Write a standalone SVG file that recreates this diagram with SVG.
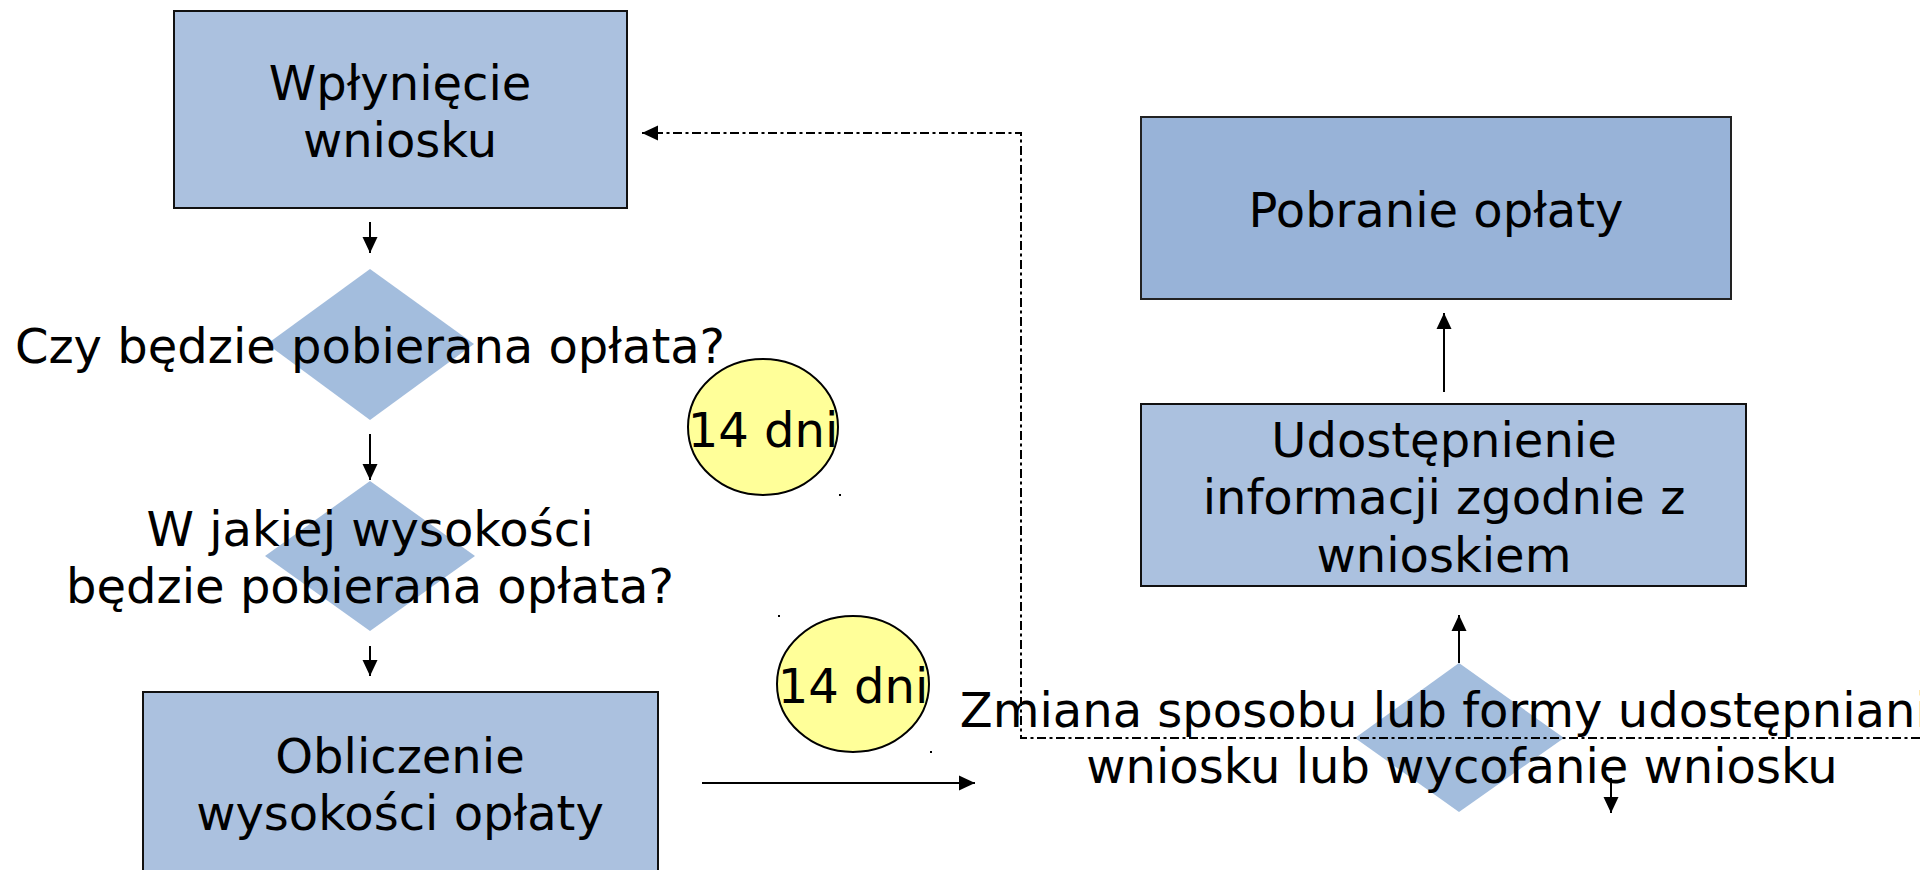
<svg xmlns="http://www.w3.org/2000/svg" width="1920" height="870" viewBox="0 0 1920 870">
  <defs>
    <style>
      .box { fill: #abc1df; stroke: #111; stroke-width: 2; }
      .box2 { fill: #98b3d8; stroke: #222; stroke-width: 2; }
      .dia { fill: #a3bddd; stroke: none; }
      .circ { fill: #ffff99; stroke: #000; stroke-width: 2; }
      .lbl { font-family: "DejaVu Sans", "Noto Sans", sans-serif; font-size: 48px; fill: #000; text-anchor: middle; }
      .conn { stroke: #000; stroke-width: 2; fill: none; }
      .dash { stroke: #000; stroke-width: 2; fill: none; stroke-dasharray: 9 3.5 3 3.5; }
      .dot { fill: #000; }
    </style>
    <marker id="arr" markerUnits="userSpaceOnUse" markerWidth="16" markerHeight="16" refX="16" refY="8" orient="auto">
      <path d="M0,0.5 L16,8 L0,15.5 z" fill="#000"/>
    </marker>
  </defs>

  <g id="node-wplyniecie">
    <rect class="box" x="174" y="11" width="453" height="197"/>
    <text class="lbl" x="400" y="100">Wpłynięcie</text>
    <text class="lbl" x="400" y="157">wniosku</text>
  </g>

  <g id="node-czy-oplata">
    <polygon class="dia" points="370,269 474,344 370,420 267,344"/>
  </g>

  <g id="node-wysokosc">
    <polygon class="dia" points="370,481 475,556 370,631 265,556"/>
  </g>

  <g id="node-obliczenie">
    <rect class="box" x="143" y="692" width="515" height="200"/>
    <text class="lbl" x="400" y="773">Obliczenie</text>
    <text class="lbl" x="400" y="830">wysokości opłaty</text>
  </g>

  <g id="node-pobranie">
    <rect class="box2" x="1141" y="117" width="590" height="182"/>
    <text class="lbl" x="1436" y="227">Pobranie opłaty</text>
  </g>

  <g id="node-udostepnienie">
    <rect class="box" x="1141" y="404" width="605" height="182"/>
    <text class="lbl" x="1444" y="457">Udostępnienie</text>
    <text class="lbl" x="1444" y="514">informacji zgodnie z</text>
    <text class="lbl" x="1444" y="572">wnioskiem</text>
  </g>

  <g id="node-zmiana">
    <polygon class="dia" points="1459,663 1564,738 1459,812 1355,738"/>
  </g>

  <g id="node-14dni-1">
    <ellipse class="circ" cx="763" cy="427" rx="75" ry="68"/>
    <text class="lbl" x="763" y="447">14 dni</text>
  </g>

  <g id="node-14dni-2">
    <ellipse class="circ" cx="853" cy="684" rx="76" ry="68"/>
    <text class="lbl" x="853" y="703">14 dni</text>
  </g>

  <g id="connectors">
    <line class="conn" x1="370" y1="222" x2="370" y2="253" marker-end="url(#arr)"/>
    <line class="conn" x1="370" y1="434" x2="370" y2="480" marker-end="url(#arr)"/>
    <line class="conn" x1="370" y1="646" x2="370" y2="676" marker-end="url(#arr)"/>
    <line class="conn" x1="702" y1="783" x2="975" y2="783" marker-end="url(#arr)"/>
    <line class="conn" x1="1444" y1="392" x2="1444" y2="313" marker-end="url(#arr)"/>
    <line class="conn" x1="1459" y1="663" x2="1459" y2="615" marker-end="url(#arr)"/>
    <line class="conn" x1="1611" y1="778" x2="1611" y2="813" marker-end="url(#arr)"/>
    <path class="dash" d="M1920,738 L1021,738 L1021,133 L642,133" marker-end="url(#arr)"/>
    <rect class="dot" x="839" y="494" width="2" height="2"/>
    <rect class="dot" x="778" y="615" width="2" height="2"/>
    <rect class="dot" x="930" y="751" width="2" height="2"/>
  </g>

  <g id="labels">
    <text class="lbl" x="370" y="363">Czy będzie pobierana opłata?</text>
    <text class="lbl" x="370" y="546">W jakiej wysokości</text>
    <text class="lbl" x="370" y="603">będzie pobierana opłata?</text>
    <text class="lbl" x="1459" y="727">Zmiana sposobu lub formy udostępniania</text>
    <text class="lbl" x="1462" y="783">wniosku lub wycofanie wniosku</text>
  </g>
</svg>
